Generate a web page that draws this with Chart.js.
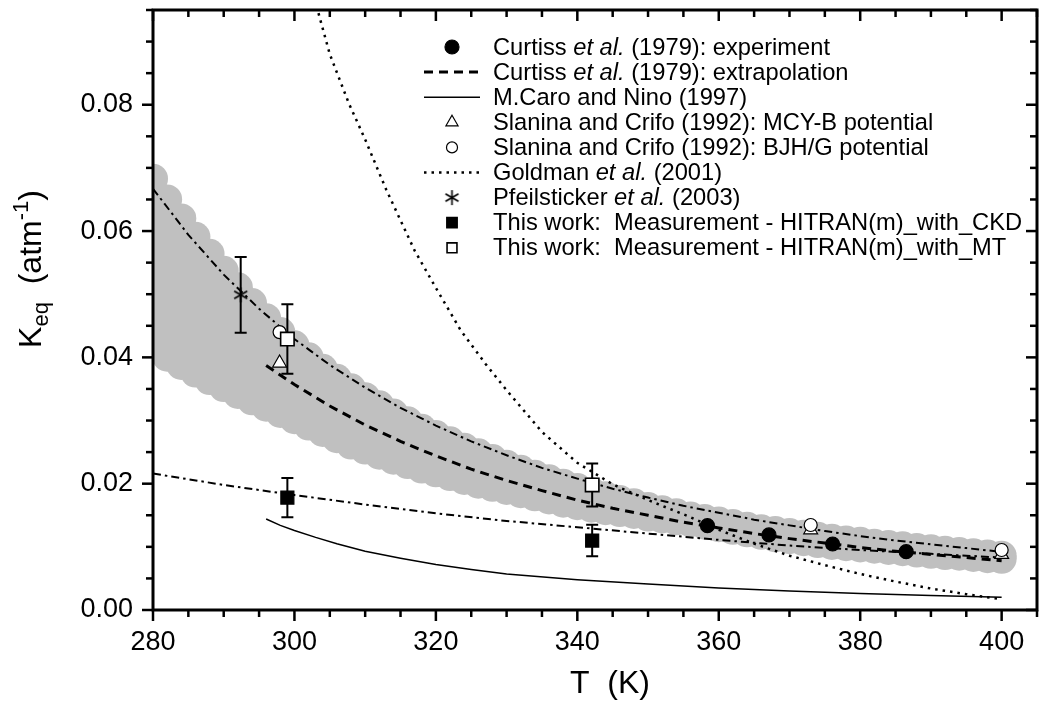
<!DOCTYPE html>
<html>
<head>
<meta charset="utf-8">
<script src="https://cdn.jsdelivr.net/npm/chart.js@4.4.1/dist/chart.umd.min.js"></script>
<style>
  html, body { margin:0; padding:0; background:#fff; }
  #wrap { width:1039px; height:707px; position:relative; }
</style>
</head>
<body>
<div id="wrap"><canvas id="keqChart"></canvas></div>
<script>
/* ===== Data (T in K, Keq in atm^-1) ===== */
// Curtiss et al. (1979): experiment
const T_EXP = [358.4, 367.1, 376.1, 386.5];
const K_EXP = [0.01335, 0.01188, 0.01045, 0.00923];

// Curtiss et al. (1979): extrapolation
const T_EXTRAP = [296,300,305,310,315,320,325,330,335,340,345,350,355,360,365,370,375,380,385,390,395,400];
const K_EXTRAP = [0.0387,0.0357,0.0323,0.0293,0.0267,0.0244,0.0223,0.0205,0.0189,0.0174,0.0161,0.0150,0.0139,0.0130,0.0121,0.0113,0.0106,0.0099,0.0093,0.0088,0.0083,0.0078];

// M.Caro and Nino (1997)
const T_CARO = [296,298,300,303,306,310,315,320,325,330,340,350,360,370,380,390,400];
const K_CARO = [0.0144,0.0134,0.0126,0.0115,0.0105,0.0093,0.0082,0.0072,0.0064,0.0057,0.0048,0.0041,0.0035,0.0030,0.0026,0.0023,0.0020];

// Slanina and Crifo (1992)
const T_MCYB = [297.9, 373.0, 400.0];
const K_MCYB = [0.0391, 0.0127, 0.0088];
const T_BJHG = [297.9, 373.0, 400.0];
const K_BJHG = [0.0440, 0.01346, 0.0095];

// Goldman et al. (2001)
const T_GOLD = [303.4,305,307.7,310,313,317,320,323.5,327,330,335,340,345,350,356,360,365,370,375,380,385,390,395,400];
const K_GOLD = [0.0945,0.0880,0.0802,0.0745,0.0665,0.0569,0.0510,0.0443,0.0390,0.0348,0.0282,0.0233,0.0199,0.0174,0.0147,0.0127,0.0105,0.0086,0.0071,0.0057,0.0045,0.0034,0.0025,0.0017];

// Pfeilsticker et al. (2003)
const T_PFEIL = [292.4];
const K_PFEIL = [0.0499];
const E_PFEIL = [0.0060];

// This work
const T_CKD = [299.0, 342.1];
const K_CKD = [0.0178, 0.0110];
const E_CKD = [0.0031, 0.0025];
const T_MT  = [299.0, 342.1];
const K_MT  = [0.0429, 0.0198];
const E_MT  = [0.0055, 0.0034];

// unlabelled dash-dot curves
const T_UPPER = [280,285,290,295,300,305,310,315,320,325,330,335,340,345,350,355,360,365,370,375,380,385,390,395,400];
const K_UPPER = [0.0667,0.0594,0.0531,0.0477,0.0429,0.0388,0.0352,0.0320,0.0292,0.0267,0.0245,0.0225,0.0208,0.0192,0.0178,0.0165,0.0154,0.0143,0.0134,0.0125,0.0117,0.0110,0.0104,0.0098,0.0092];
const T_LOWER = [280,290,300,310,320,330,340,350,360,370,380,390,400];
const K_LOWER = [0.0216,0.0198,0.0182,0.0167,0.0153,0.0141,0.0131,0.0121,0.0111,0.0102,0.0095,0.0089,0.0083];

// grey uncertainty band: upper and lower edges (circle centres)
const T_BAND = [280,282,284,286,288,290,292,294,296,298,300,302,304,306,308,310,312,314,316,318,320,322,324,326,328,330,332,334,336,338,340,342,344,346,348,350,352,354,356,358,360,362,364,366,368,370,372,374,376,378,380,382,384,386,388,390,392,394,396,398,400];
const K_BAND_HI = [0.0683,0.0650,0.0620,0.0591,0.0564,0.0537,0.0511,0.0486,0.0462,0.0440,0.0419,0.0400,0.0382,0.0366,0.0351,0.0337,0.0324,0.0311,0.0299,0.0287,0.0277,0.0267,0.0257,0.0248,0.0239,0.0230,0.0222,0.0214,0.0207,0.0200,0.0193,0.0187,0.0180,0.0174,0.0169,0.0163,0.0158,0.0153,0.0148,0.0144,0.0140,0.0136,0.0132,0.0128,0.0125,0.0122,0.0119,0.0116,0.0113,0.0110,0.0108,0.0105,0.0103,0.0101,0.0098,0.0096,0.0094,0.0092,0.0090,0.0088,0.0086];
const K_BAND_LO = [0.0414,0.0401,0.0388,0.0376,0.0364,0.0353,0.0342,0.0332,0.0322,0.0312,0.0302,0.0292,0.0282,0.0272,0.0262,0.0254,0.0246,0.0238,0.0231,0.0224,0.0218,0.0212,0.0206,0.0200,0.0195,0.0190,0.0185,0.0180,0.0175,0.0170,0.0166,0.0162,0.0158,0.0155,0.0152,0.0148,0.0145,0.0142,0.0139,0.0135,0.0131,0.0127,0.0123,0.0119,0.0115,0.0112,0.0109,0.0106,0.0103,0.0101,0.0099,0.0097,0.0095,0.0093,0.0091,0.0089,0.0087,0.0086,0.0084,0.0082,0.0081];

const LEGEND_LABELS = [
  'Curtiss *et al.* (1979): experiment',
  'Curtiss *et al.* (1979): extrapolation',
  'M.Caro and Nino (1997)',
  'Slanina and Crifo (1992): MCY-B potential',
  'Slanina and Crifo (1992): BJH/G potential',
  'Goldman *et al.* (2001)',
  'Pfeilsticker *et al.* (2003)',
  'This work:  Measurement - HITRAN(m)_with_CKD',
  'This work:  Measurement - HITRAN(m)_with_MT',
];

/* ===== Helpers ===== */
const FONT = '"Liberation Sans", Arial, Helvetica, sans-serif';
const GREY = 'rgb(192,192,192)';
const pts = (xs, ys) => xs.map((x,i) => ({x, y:ys[i]}));

// six-armed asterisk marker
function asterisk(size, lw){
  const c = document.createElement('canvas');
  c.width = c.height = size;
  const g = c.getContext('2d');
  g.strokeStyle = '#000'; g.lineWidth = lw;
  const m = size/2, r = size/2 - 1;
  [90, 30, -30].forEach(a => {
    const t = a*Math.PI/180;
    g.beginPath();
    g.moveTo(m - r*Math.cos(t), m - r*Math.sin(t));
    g.lineTo(m + r*Math.cos(t), m + r*Math.sin(t));
    g.stroke();
  });
  return c;
}
const STAR = asterisk(17, 1.6);

function marker(o){
  return Object.assign({showLine:false, borderWidth:0, borderColor:'#000',
    pointBorderColor:'#000', pointBorderWidth:1.2, pointBackgroundColor:'#000'}, o);
}
function curve(o){
  return Object.assign({pointRadius:0, borderColor:'#000', tension:0, fill:false}, o);
}

/* ===== Datasets (index 0 is drawn on top) ===== */
const datasets = [
  marker({data:pts(T_MT,K_MT), errors:E_MT, pointStyle:'rect', pointRadius:9.5, pointBackgroundColor:'#fff', pointBorderWidth:1.6, legendRow:8, legendRadius:7}),
  marker({data:pts(T_CKD,K_CKD), errors:E_CKD, pointStyle:'rect', pointRadius:9.2, legendRow:7, legendRadius:7.5}),
  marker({data:pts(T_PFEIL,K_PFEIL), errors:E_PFEIL, pointStyle:STAR, pointRadius:9, legendRow:6}),
  marker({data:pts(T_BJHG,K_BJHG), pointStyle:'circle', pointRadius:6.5, pointBackgroundColor:'#fff', legendRow:4, legendRadius:5.5}),
  marker({data:pts(T_MCYB,K_MCYB), pointStyle:'triangle', pointRadius:8, pointBackgroundColor:'#fff', legendRow:3, legendRadius:7}),
  marker({data:pts(T_EXP,K_EXP), pointStyle:'circle', pointRadius:7, legendRow:0, legendRadius:7}),
  curve({data:pts(T_GOLD,K_GOLD), borderWidth:2.5, borderDash:[2.5,5], clip:0, legendRow:5}),
  curve({data:pts(T_UPPER,K_UPPER), borderWidth:2, borderDash:[8,4,2.5,4]}),
  curve({data:pts(T_LOWER,K_LOWER), borderWidth:2, borderDash:[8,4,2.5,4]}),
  curve({data:pts(T_CARO,K_CARO), borderWidth:1.5, legendRow:2}),
  curve({data:pts(T_EXTRAP,K_EXTRAP), borderWidth:3, borderDash:[9,6], legendRow:1}),
  {data:pts(T_BAND,K_BAND_HI), fill:'+1', backgroundColor:GREY, borderColor:GREY, borderWidth:1,
   pointRadius:15, pointBackgroundColor:GREY, pointBorderWidth:0, pointBorderColor:GREY, clip:0},
  {data:pts(T_BAND,K_BAND_LO), fill:false, borderColor:GREY, borderWidth:1,
   pointRadius:15, pointBackgroundColor:GREY, pointBorderWidth:0, pointBorderColor:GREY, clip:0},
];

/* ===== Plugins ===== */
const errorBars = {
  id:'errorBars',
  beforeDatasetDraw(chart, args){
    const ds = chart.data.datasets[args.index];
    if(!ds.errors) return;
    const {ctx, scales:{x, y}} = chart;
    ctx.save();
    ctx.strokeStyle = '#000'; ctx.lineWidth = 2;
    ds.data.forEach((p,i) => {
      const px = x.getPixelForValue(p.x);
      const hi = y.getPixelForValue(p.y + ds.errors[i]);
      const lo = y.getPixelForValue(p.y - ds.errors[i]);
      ctx.beginPath();
      ctx.moveTo(px, hi); ctx.lineTo(px, lo);
      ctx.moveTo(px-6, hi); ctx.lineTo(px+6, hi);
      ctx.moveTo(px-6, lo); ctx.lineTo(px+6, lo);
      ctx.stroke();
    });
    ctx.restore();
  }
};

function drawMarker(ctx, ds, cx, cy){
  const st = ds.pointStyle, r = ds.legendRadius || ds.pointRadius;
  ctx.save();
  ctx.fillStyle = ds.pointBackgroundColor;
  ctx.strokeStyle = ds.pointBorderColor;
  ctx.lineWidth = ds.pointBorderWidth;
  if(st instanceof HTMLCanvasElement){
    ctx.drawImage(st, cx - st.width/2, cy - st.height/2);
  } else {
    ctx.beginPath();
    if(st === 'circle') ctx.arc(cx, cy, r, 0, Math.PI*2);
    else if(st === 'rect'){ const s = r*Math.SQRT1_2; ctx.rect(cx-s, cy-s, 2*s, 2*s); }
    else if(st === 'triangle'){
      for(let k=0;k<3;k++){
        const a = k*2*Math.PI/3;
        const px = cx + Math.sin(a)*r, py = cy - Math.cos(a)*r;
        k ? ctx.lineTo(px,py) : ctx.moveTo(px,py);
      }
      ctx.closePath();
    }
    ctx.fill(); ctx.stroke();
  }
  ctx.restore();
}

function drawRich(ctx, text, x, y, size){
  text.split('*').forEach((part, i) => {
    ctx.font = (i % 2 ? 'italic ' : '') + size + 'px ' + FONT;
    ctx.fillText(part, x, y);
    x += ctx.measureText(part).width;
  });
}

const legendBox = {
  id:'legendBox',
  afterDatasetsDraw(chart){
    const ctx = chart.ctx;
    ctx.save();
    ctx.fillStyle = '#000';
    ctx.textBaseline = 'middle';
    chart.data.datasets.forEach(ds => {
      if(ds.legendRow === undefined) return;
      const cy = 47 + ds.legendRow*25.1;
      if(ds.showLine === false){
        drawMarker(ctx, ds, 452, cy);
      } else {
        ctx.save();
        ctx.strokeStyle = '#000';
        ctx.lineWidth = ds.borderWidth;
        ctx.setLineDash(ds.borderDash || []);
        ctx.beginPath(); ctx.moveTo(424, cy); ctx.lineTo(480, cy); ctx.stroke();
        ctx.restore();
      }
      drawRich(ctx, LEGEND_LABELS[ds.legendRow], 493, cy + 1, 23.7);
    });
    ctx.restore();
  }
};

const frameTicks = {
  id:'frameTicks',
  afterDatasetsDraw(chart){
    const {ctx, chartArea:a, scales:{x, y}} = chart;
    ctx.save();
    ctx.strokeStyle = '#000';
    ctx.lineWidth = 2.5;
    const seg = (x1,y1,x2,y2) => { ctx.beginPath(); ctx.moveTo(x1,y1); ctx.lineTo(x2,y2); ctx.stroke(); };
    for(let v=280; v<=405; v+=5){
      const px = x.getPixelForValue(v), L = v % 20 === 0 ? 11 : 7;
      seg(px, a.bottom, px, a.bottom + L);
      seg(px, a.top, px, a.top + L);
    }
    for(let k=0; k<=19; k++){
      const py = y.getPixelForValue(k*0.005), L = k % 4 === 0 ? 11 : 7;
      seg(a.left - L, py, a.left, py);
      seg(a.right - L, py, a.right, py);
    }
    ctx.lineWidth = 3;
    ctx.strokeRect(a.left, a.top, a.right - a.left, a.bottom - a.top);

    // axis titles
    ctx.fillStyle = '#000';
    ctx.textBaseline = 'alphabetic';
    ctx.font = '32px ' + FONT;
    ctx.textAlign = 'center';
    ctx.fillText('T  (K)', 610, 693);

    ctx.textAlign = 'left';
    const parts = [['K',32,0],['eq',22,7],['  (atm',32,0],['-1',22,-13],[')',32,0]];
    let total = 0;
    parts.forEach(p => { ctx.font = p[1]+'px '+FONT; total += ctx.measureText(p[0]).width; });
    ctx.translate(41, 269);
    ctx.rotate(-Math.PI/2);
    let u = -total/2;
    parts.forEach(p => {
      ctx.font = p[1]+'px '+FONT;
      ctx.fillText(p[0], u, p[2]);
      u += ctx.measureText(p[0]).width;
    });
    ctx.restore();
  }
};

// fixed plot box; the library keeps only the labelled (major) ticks,
// minor ticks are drawn by frameTicks
function keepMajor(step){
  return s => { s.ticks = s.ticks.filter(t => Math.abs(t.value/step - Math.round(t.value/step)) < 1e-6); };
}
function noPad(s){ s.paddingTop = 0; s.paddingBottom = 0; s.paddingLeft = 0; s.paddingRight = 0; }

/* ===== Chart ===== */
Chart.defaults.font.family = FONT;
Chart.defaults.color = '#000';

new Chart(document.getElementById('keqChart'), {
  type:'line',
  data:{datasets},
  plugins:[errorBars, frameTicks, legendBox],
  options:{
    responsive:true, maintainAspectRatio:false, animation:false, events:[],
    layout:{autoPadding:false, padding:{top:10, right:2, left:0, bottom:0}},
    plugins:{legend:{display:false}, tooltip:{enabled:false}},
    scales:{
      x:{type:'linear', min:280, max:405,
         afterBuildTicks:keepMajor(20),
         afterFit(s){ s.height = 97; noPad(s); },
         grid:{display:false, drawTicks:false}, border:{display:false},
         ticks:{stepSize:20, includeBounds:false, autoSkip:false, maxRotation:0, padding:16, font:{size:27},
                callback:v => String(v)}},
      y:{type:'linear', min:0, max:0.095,
         afterBuildTicks:keepMajor(0.02),
         afterFit(s){ s.width = 153; noPad(s); },
         grid:{display:false, drawTicks:false}, border:{display:false},
         ticks:{stepSize:0.02, includeBounds:false, autoSkip:false, padding:20, font:{size:27},
                callback:v => v.toFixed(2)}}
    }
  }
});
</script>
</body>
</html>
